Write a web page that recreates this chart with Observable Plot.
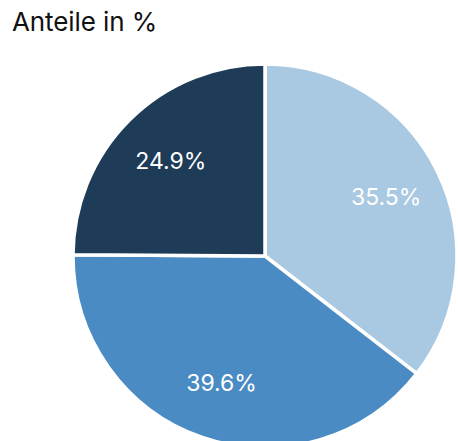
<!DOCTYPE html>
<html><head><meta charset="utf-8">
<script src="https://cdn.jsdelivr.net/npm/d3@7"></script>
<script src="https://cdn.jsdelivr.net/npm/@observablehq/plot@0.6"></script>
<style>
body{margin:0;background:#fff;overflow:hidden;font-family:Inter, "Noto Sans", sans-serif}
#sub{position:absolute;left:12px;top:6px;font-size:26px;color:#111;line-height:1.2;letter-spacing:-0.1px}
#chart{position:absolute;left:0;top:50px}
</style></head><body>
<div id="sub">Anteile in %</div>
<div id="chart"></div>
<script>
const categories = ["Kategorie 1", "Kategorie 2", "Kategorie 3"];
const values = [35.5, 39.6, 24.9];
const labels = ["35.5%", "39.6%", "24.9%"];
const colors = ["#a9c8e1", "#4a8bc3", "#1e3b57"];

const data = categories.map((c, i) => ({category: c, value: values[i], label: labels[i]}));
const arcs = d3.pie().sort(null).value(d => d.value)(data);
const labelRadius = 0.7;
const labelData = arcs.map(a => {
  const m = (a.startAngle + a.endAngle) / 2;
  return {category: a.data.category, label: a.data.label, lx: labelRadius * Math.sin(m), ly: labelRadius * Math.cos(m)};
});

function pieMark(index, scales) {
  const cx = scales.x(0), cy = scales.y(0);
  const r = scales.x(1) - scales.x(0);
  const arc = d3.arc().innerRadius(0).outerRadius(r);
  const g = d3.create("svg:g").attr("transform", `translate(${cx},${cy})`);
  g.selectAll("path").data(arcs).join("path")
    .attr("d", arc)
    .attr("fill", d => scales.color(d.data.category))
    .attr("stroke", "#fff")
    .attr("stroke-width", 3.5)
    .attr("stroke-linejoin", "miter");
  return g.node();
}

const chart = Plot.plot({
  width: 458,
  height: 400,
  margin: 0,
  style: {background: "transparent", overflow: "visible"},
  x: {domain: [-1, 1], range: [73, 457], axis: null},
  y: {domain: [-1, 1], range: [398, 14], axis: null},
  color: {type: "ordinal", domain: categories, range: colors},
  marks: [
    Plot.dot(data, {x: () => 0, y: () => 0, fill: "category", r: 0}),
    pieMark,
    Plot.text(labelData, {x: "lx", y: "ly", text: "label", fill: "white", fontSize: 23, fontWeight: 400, fontFamily: "Inter, sans-serif", letterSpacing: 0.3})
  ]
});
document.getElementById("chart").appendChild(chart);
</script>
</body></html>
